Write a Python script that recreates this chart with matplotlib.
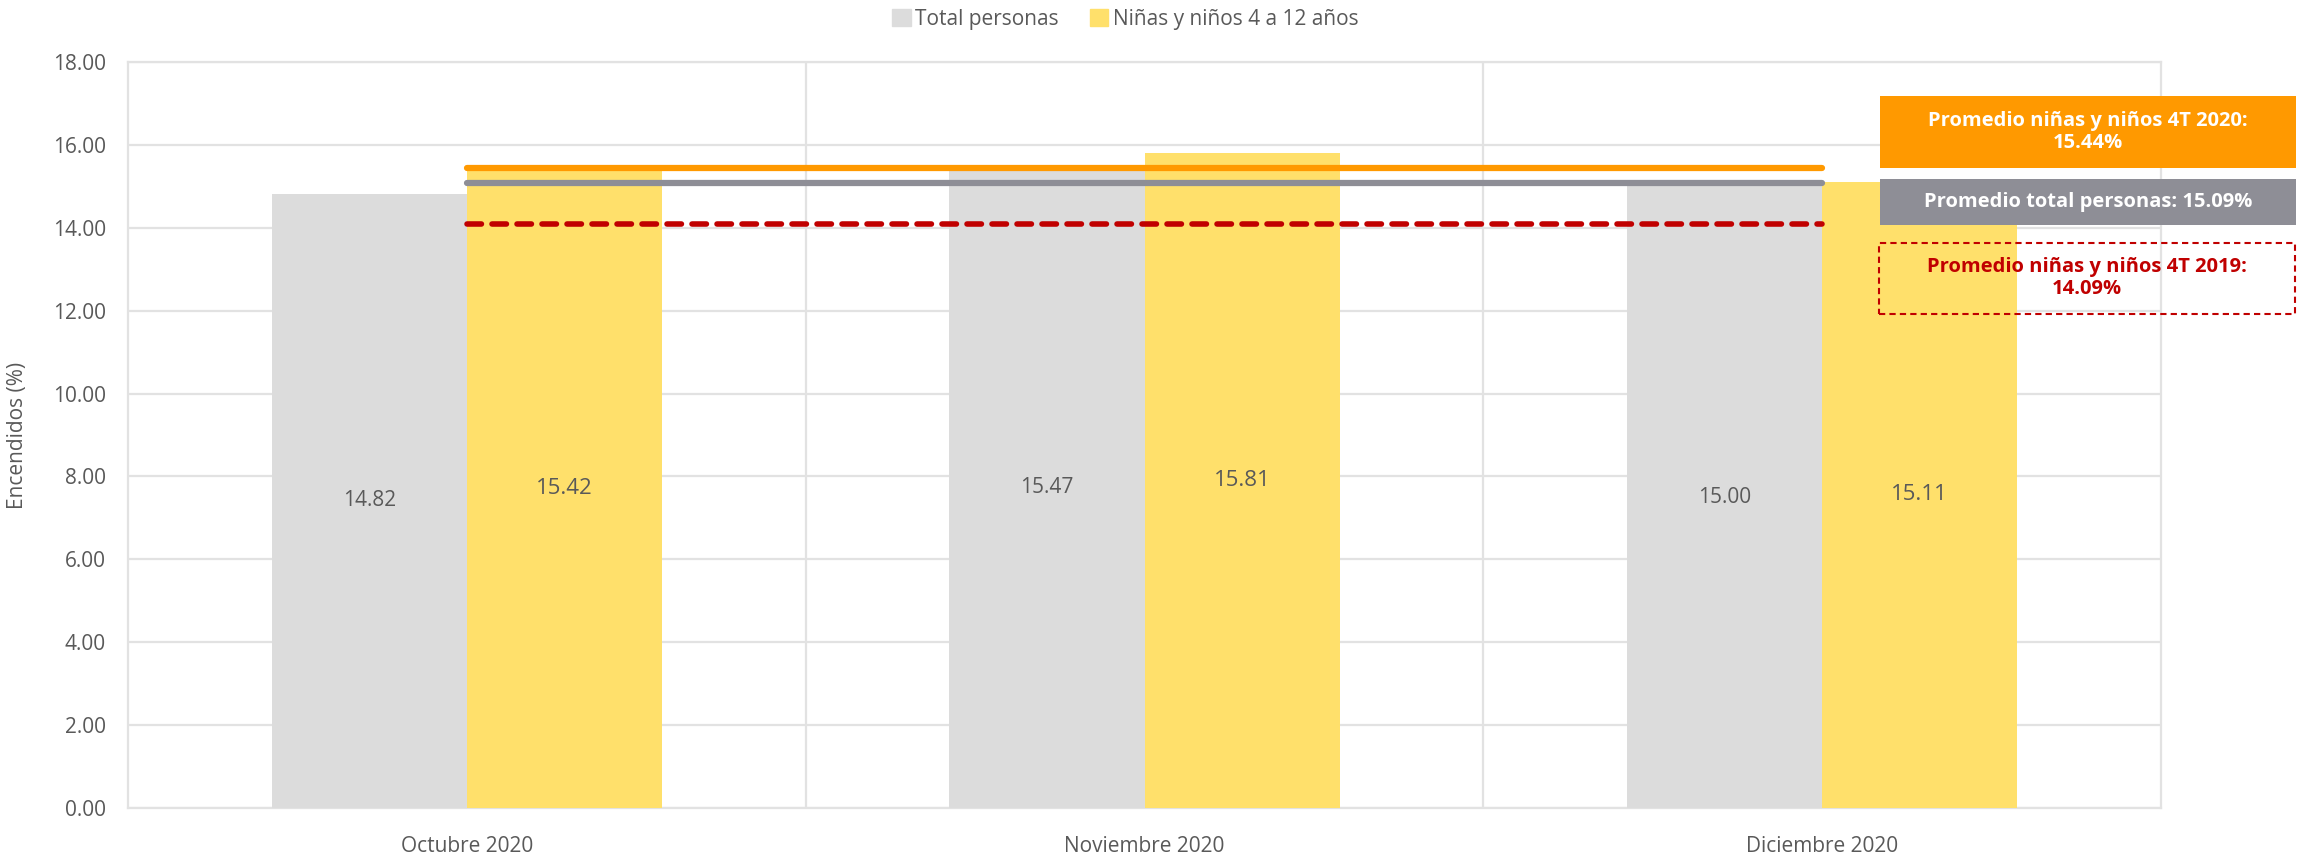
import matplotlib.pyplot as plt
import numpy as np
from matplotlib.patches import Patch, Rectangle

plt.rcParams['font.family'] = ['Open Sans', 'DejaVu Sans']

meses = ['Octubre 2020', 'Noviembre 2020', 'Diciembre 2020']
total_personas = [14.82, 15.47, 15.00]
ninos_4_12 = [15.42, 15.81, 15.11]
prom_ninos_2020 = 15.44
prom_total = 15.09
prom_ninos_2019 = 14.09
yticks = [0, 2, 4, 6, 8, 10, 12, 14, 16, 18]

c_gris = '#DCDCDC'
c_amarillo = '#FFE06B'
c_naranja = '#FF9900'
c_gris_osc = '#8E8E96'
c_rojo = '#C00000'
c_texto = '#595959'
c_grid = '#E2E2E2'

W, H = 2305, 857
fig = plt.figure(figsize=(W / 100, H / 100), dpi=100)
ax = fig.add_axes([128 / W, 1 - 808 / H, (2161 - 128) / W, (808 - 62) / H])

x = np.arange(len(meses))
bw = 0.288
ax.bar(x - bw / 2, total_personas, bw, color=c_gris, zorder=2)
ax.bar(x + bw / 2, ninos_4_12, bw, color=c_amarillo, zorder=2)

for xi, v in zip(x, total_personas):
    ax.text(xi - bw / 2, v / 2, f'{v:.2f}', ha='center', va='center',
            fontsize=15, color=c_texto, zorder=3)
for xi, v in zip(x, ninos_4_12):
    ax.text(xi + bw / 2, v / 2, f'{v:.2f}', ha='center', va='center',
            fontsize=16, color=c_texto, zorder=3)

# lineas de promedio
ax.plot(x, [prom_ninos_2020] * 3, color=c_naranja, lw=4.5,
        solid_capstyle='round', zorder=4)
ax.plot(x, [prom_total] * 3, color=c_gris_osc, lw=4.5,
        solid_capstyle='round', zorder=4)
ax.plot(x, [prom_ninos_2019] * 3, color=c_rojo, lw=4, dashes=(2.6, 1.9),
        dash_capstyle='round', zorder=4)

ax.set_xlim(-0.5, 2.5)
ax.set_ylim(0, 18)
ax.set_yticks(yticks)
ax.set_yticklabels([f'{t:.2f}' for t in yticks])
ax.set_xticks(x)
ax.set_xticklabels(meses)
ax.set_xticks([0.5, 1.5], minor=True)
ax.tick_params(axis='both', which='both', length=0, labelsize=15, labelcolor=c_texto)
ax.tick_params(axis='x', pad=20)
ax.tick_params(axis='y', pad=16)
ax.grid(axis='y', color=c_grid, lw=1.6, zorder=0)
ax.grid(axis='x', which='minor', color=c_grid, lw=1.6, zorder=0)
for s in ax.spines.values():
    s.set_color(c_grid)
    s.set_linewidth(1.6)
    s.set_zorder(0)
ax.set_ylabel('Encendidos (%)', fontsize=15, color=c_texto, labelpad=18)

# cajas de texto a la derecha
def caja(x0, y0, x1, y1, **kw):
    r = Rectangle((x0 / W, 1 - y1 / H), (x1 - x0) / W, (y1 - y0) / H,
                  transform=fig.transFigure, **kw)
    fig.add_artist(r)

caja(1880, 96, 2296, 168, facecolor=c_naranja, edgecolor='none', zorder=5)
fig.text(2088 / W, 1 - 132 / H, f'Promedio niñas y niños 4T 2020:\n{prom_ninos_2020:.2f}%',
         ha='center', va='center', color='white', fontsize=14.5, fontweight='bold',
         linespacing=1.15, zorder=6)
caja(1880, 179, 2296, 225, facecolor=c_gris_osc, edgecolor='none', zorder=5)
fig.text(2088 / W, 1 - 202 / H, f'Promedio total personas: {prom_total:.2f}%',
         ha='center', va='center', color='white', fontsize=14.5, fontweight='bold', zorder=6)
caja(1879, 243, 2295, 314, facecolor='none', edgecolor=c_rojo, lw=1.5,
     linestyle=(0, (3, 2)), zorder=5)
fig.text(2087 / W, 1 - 278 / H, f'Promedio niñas y niños 4T 2019:\n{prom_ninos_2019:.2f}%',
         ha='center', va='center', color=c_rojo, fontsize=14.5, fontweight='bold',
         linespacing=1.15, zorder=6)

handles = [Patch(color=c_gris, label='Total personas'),
           Patch(color=c_amarillo, label='Niñas y niños 4 a 12 años')]
fig.legend(handles=handles, loc='center', bbox_to_anchor=(1125 / W, 1 - 19 / H), ncol=2,
           frameon=False, fontsize=15, handlelength=0.9, handleheight=0.9,
           handletextpad=0.2, columnspacing=1.5, labelcolor=c_texto)

fig.savefig('out.png', dpi=100)
